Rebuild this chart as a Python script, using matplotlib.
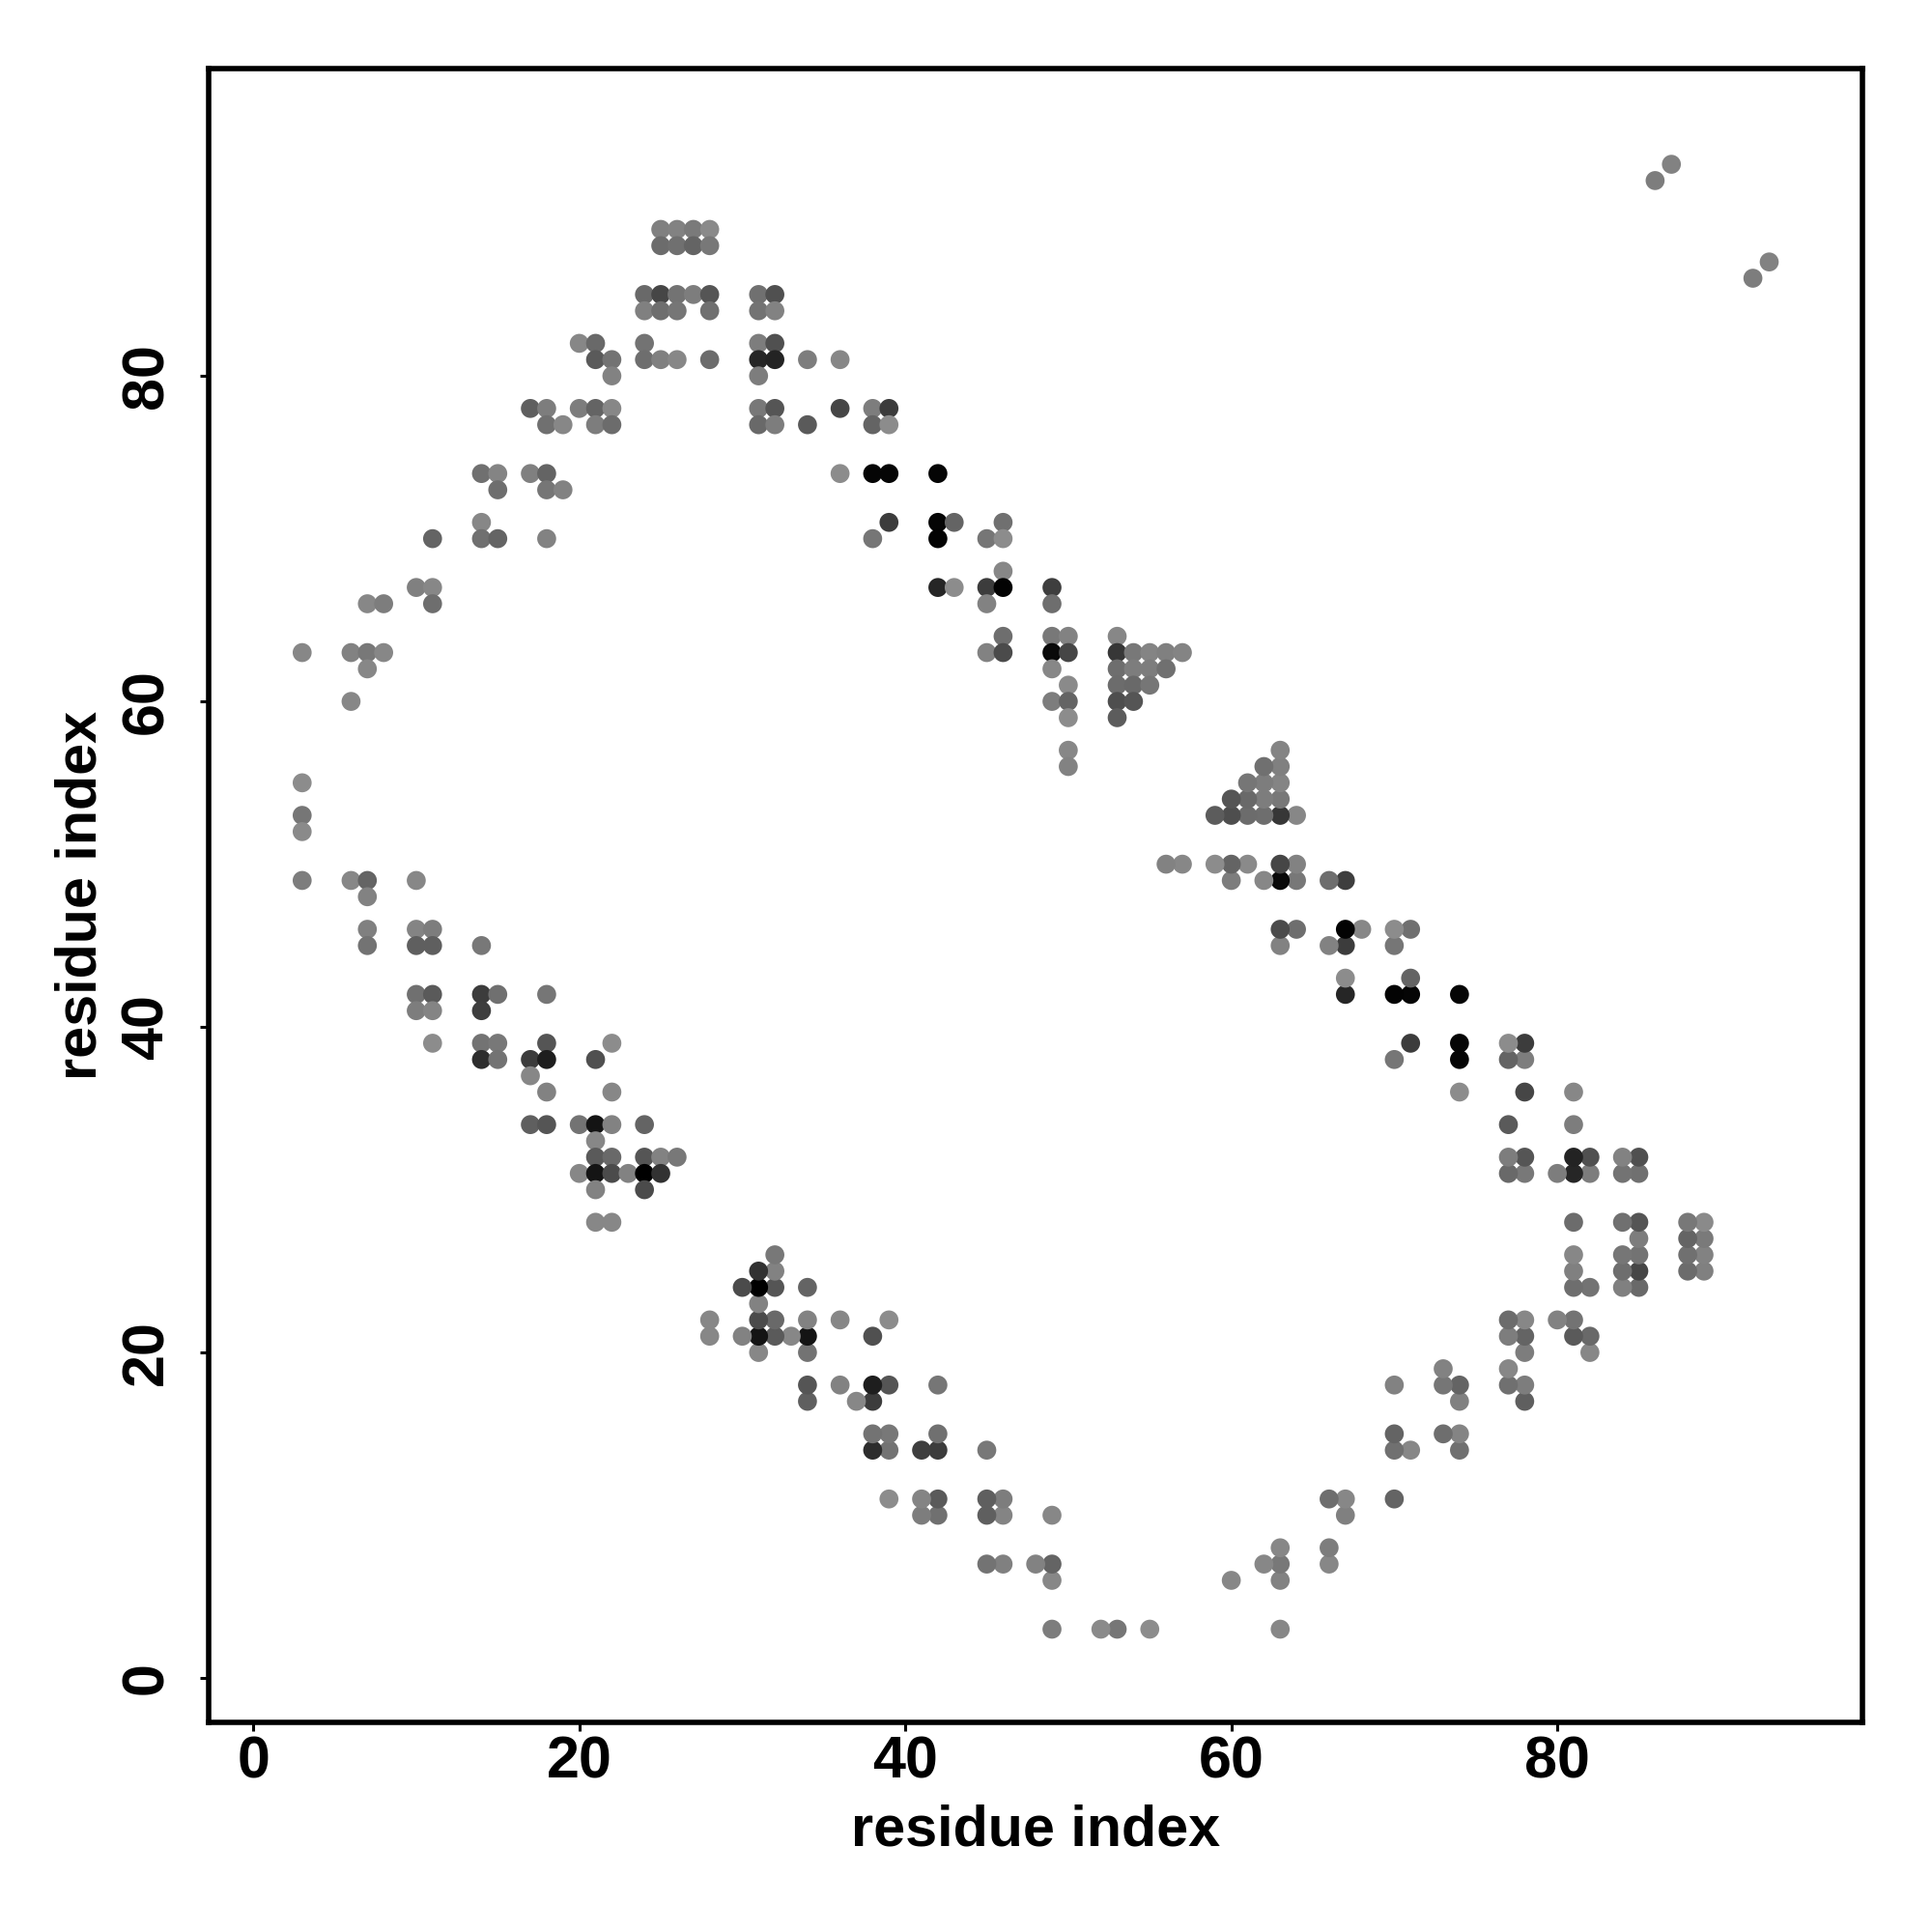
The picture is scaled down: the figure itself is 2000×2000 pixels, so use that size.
"""
Residue contact map, drawn from the contacts above the diagonal and their mirror.
"""

import matplotlib
matplotlib.use("Agg")
import matplotlib.pyplot as plt

plt.rcParams["font.family"] = ["Liberation Sans", "DejaVu Sans"]

# contacts with residue_i < residue_j, row by row, shade is the grey level of the dot
residue_i = [
    25, 26, 27, 28,
    25, 26, 27, 28,
    24, 25, 26, 27, 28, 31, 32,
    24, 25, 26, 28, 31, 32,
    20, 21, 24, 31, 32,
    21, 22, 24, 25, 26, 28, 31, 32, 34, 36,
    22, 31,
    17, 18, 20, 21, 22, 31, 32, 36, 38, 39,
    18, 19, 21, 22, 31, 32, 34, 38, 39,
    14, 15, 17, 18, 36, 38, 39, 42,
    15, 18, 19,
    14, 39, 42, 43, 46,
    11, 14, 15, 18, 38, 42, 45, 46,
    46,
    10, 11, 42, 43, 45, 46, 49,
    7, 8, 11, 45, 49,
    46, 49, 50, 53,
    3, 6, 7, 8, 45, 46, 49, 50, 53, 54, 55, 56, 57,
    7, 49, 53, 54, 55, 56,
    50, 53, 54, 55,
    6, 49, 50, 53, 54,
    50, 53,
    50,
    50,
    3,
    3,
    3,
    3, 6, 7, 10,
    7,
    7, 10, 11,
    7, 10, 11, 14,
    10, 11, 14, 15, 18,
    10, 11, 14,
    11, 14, 15, 18, 22,
    14, 15, 17, 18, 21,
    17,
    18, 22,
    17, 18, 20, 21, 22, 24,
    21,
    21, 22, 24, 25, 26,
    20, 21, 22, 23, 24, 25,
    21, 24,
    21, 22,
    86, 87,
]
residue_j = [
    89, 89, 89, 89,
    88, 88, 88, 88,
    85, 85, 85, 85, 85, 85, 85,
    84, 84, 84, 84, 84, 84,
    82, 82, 82, 82, 82,
    81, 81, 81, 81, 81, 81, 81, 81, 81, 81,
    80, 80,
    78, 78, 78, 78, 78, 78, 78, 78, 78, 78,
    77, 77, 77, 77, 77, 77, 77, 77, 77,
    74, 74, 74, 74, 74, 74, 74, 74,
    73, 73, 73,
    71, 71, 71, 71, 71,
    70, 70, 70, 70, 70, 70, 70, 70,
    68,
    67, 67, 67, 67, 67, 67, 67,
    66, 66, 66, 66, 66,
    64, 64, 64, 64,
    63, 63, 63, 63, 63, 63, 63, 63, 63, 63, 63, 63, 63,
    62, 62, 62, 62, 62, 62,
    61, 61, 61, 61,
    60, 60, 60, 60, 60,
    59, 59,
    57,
    56,
    55,
    53,
    52,
    49, 49, 49, 49,
    48,
    46, 46, 46,
    45, 45, 45, 45,
    42, 42, 42, 42, 42,
    41, 41, 41,
    39, 39, 39, 39, 39,
    38, 38, 38, 38, 38,
    37,
    36, 36,
    34, 34, 34, 34, 34, 34,
    33,
    32, 32, 32, 32, 32,
    31, 31, 31, 31, 31, 31,
    30, 30,
    28, 28,
    92, 93,
]
shade = [
    128, 130, 122, 138,
    108, 112, 100, 120,
    105, 70, 115, 125, 85, 112, 80,
    128, 110, 118, 112, 115, 130,
    135, 105, 115, 125, 80,
    90, 115, 110, 128, 135, 108, 38, 35, 125, 135,
    130, 125,
    95, 125, 125, 100, 135, 120, 85, 70, 125, 60,
    112, 135, 125, 108, 105, 125, 90, 100, 140,
    112, 132, 128, 100, 140, 5, 5, 5,
    110, 118, 130,
    135, 60, 5, 100, 112,
    100, 112, 100, 130, 118, 3, 118, 140,
    135,
    128, 135, 38, 140, 60, 3, 62,
    135, 125, 110, 130, 110,
    110, 120, 130, 135,
    135, 130, 120, 135, 130, 75, 10, 70, 55, 120, 132, 128, 132,
    135, 135, 110, 125, 125, 112,
    138, 108, 105, 118,
    135, 125, 100, 78, 85,
    140, 92,
    135,
    130,
    140,
    118,
    138,
    125, 135, 100, 135,
    130,
    128, 132, 125,
    115, 95, 95, 120,
    112, 90, 60, 112, 118,
    125, 132, 62,
    140, 115, 120, 85, 140,
    45, 115, 60, 30, 80,
    135,
    130, 135,
    95, 85, 115, 20, 130, 100,
    135,
    90, 105, 85, 130, 120,
    135, 20, 75, 130, 0, 50,
    130, 75,
    135, 135,
    125, 130,
]
tick_values = [0, 20, 40, 60, 80]

fig = plt.figure(figsize=(10, 10), dpi=200)
ax = fig.add_axes([0.1078, 0.1083, 0.8562, 0.8562])

dots = dict(s=50, cmap="gray", vmin=0, vmax=255, linewidths=0, clip_on=False)
ax.scatter(residue_i, residue_j, c=shade, **dots)
ax.scatter(residue_j, residue_i, c=shade, **dots)

ax.set_xlim(-2.76, 98.72)
ax.set_ylim(-2.75, 98.88)
ax.set_xticks(tick_values)
ax.set_yticks(tick_values)
ax.tick_params(length=3.4, width=1.1, labelsize=22)
ax.tick_params(axis="x", pad=1.3)
ax.tick_params(axis="y", pad=9)
for label in ax.get_xticklabels():
    label.set_fontweight("bold")
for label in ax.get_yticklabels():
    label.set_fontweight("bold")
    label.set_rotation(90)
    label.set_va("center")
for spine in ax.spines.values():
    spine.set_linewidth(2.0)

ax.set_xlabel("residue index", fontsize=21.4, fontweight="bold", labelpad=5)
ax.set_ylabel("residue index", fontsize=21.4, fontweight="bold", labelpad=4.5)

fig.savefig("out.png", dpi=200)
